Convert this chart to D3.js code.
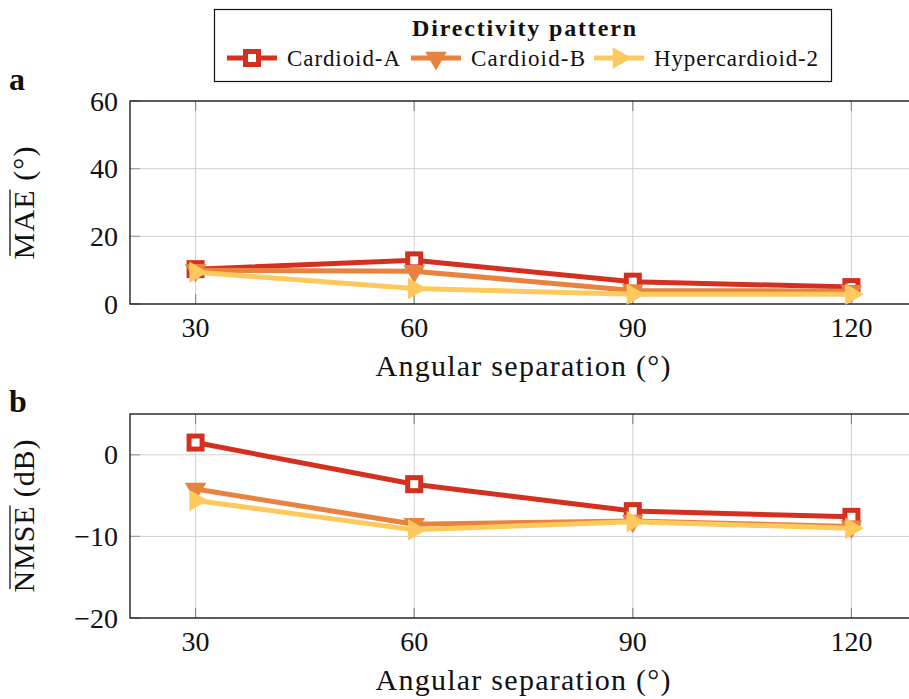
<!DOCTYPE html>
<html>
<head>
<meta charset="utf-8">
<script src="https://cdn.jsdelivr.net/npm/d3@7"></script>
<style>
  body { margin: 0; background: #fff; }
  svg text { font-family: "Liberation Serif", "DejaVu Serif", serif; fill: #111; }
</style>
</head>
<body>
<div id="chart"></div>
<script>
// data
const angles = [30, 60, 90, 120];
const seriesNames = ["Cardioid-A", "Cardioid-B", "Hypercardioid-2"];

const maeA = [10.3, 12.9, 6.6, 5.0];
const maeB = [10.0, 9.7, 4.0, 3.8];
const maeH = [9.4, 4.6, 2.9, 2.9];

const nmseA = [1.5, -3.6, -6.9, -7.6];
const nmseB = [-4.2, -8.5, -8.1, -8.8];
const nmseH = [-5.6, -9.2, -8.2, -9.0];

const maeTicks = [0, 20, 40, 60];
const nmseTicks = [-20, -10, 0];

const width = 909, height = 699;

const svg = d3.select("#chart")
    .append("svg")
    .attr("width", width)
    .attr("height", height);

const colorScale = d3.scaleOrdinal()
    .domain(seriesNames)
    .range(["#d5301f", "#e8823f", "#fec95c"]);

const markerType = {"Cardioid-A": "square", "Cardioid-B": "down", "Hypercardioid-2": "right"};

// x scale shared by both panels
const xScale = d3.scaleLinear()
    .domain([21, 129])
    .range([130, 917]);

function drawMarker(g, name, x, y) {
    const c = colorScale(name);
    const t = markerType[name];
    if (t === "square") {
        g.append("rect")
            .attr("x", x - 6.5).attr("y", y - 6.5)
            .attr("width", 13).attr("height", 13)
            .attr("fill", "#fff")
            .attr("stroke", c)
            .attr("stroke-width", 5);
    } else {
        g.append("path")
            .attr("d", d3.symbol(d3.symbolTriangle, 200)())
            .attr("transform", `translate(${x},${y}) rotate(${t === "down" ? 180 : 90})`)
            .attr("fill", c);
    }
}

function drawPanel(opts) {
    const yScale = d3.scaleLinear()
        .domain(opts.domain)
        .range([opts.bottom, opts.top]);

    const g = svg.append("g");

    // grid
    g.selectAll(".vgrid").data(angles).enter().append("line")
        .attr("x1", d => xScale(d)).attr("x2", d => xScale(d))
        .attr("y1", opts.top).attr("y2", opts.bottom)
        .attr("stroke", "#d0d0d0").attr("stroke-width", 1);
    g.selectAll(".hgrid").data(opts.ticks).enter().append("line")
        .attr("x1", xScale.range()[0]).attr("x2", xScale.range()[1])
        .attr("y1", d => yScale(d)).attr("y2", d => yScale(d))
        .attr("stroke", "#d0d0d0").attr("stroke-width", 1);

    // ticks (inside)
    g.selectAll(".xtb").data(angles).enter().append("line")
        .attr("x1", d => xScale(d)).attr("x2", d => xScale(d))
        .attr("y1", opts.bottom).attr("y2", opts.bottom - 10)
        .attr("stroke", "#8a8a8a").attr("stroke-width", 1.2);
    g.selectAll(".xtt").data(angles).enter().append("line")
        .attr("x1", d => xScale(d)).attr("x2", d => xScale(d))
        .attr("y1", opts.top).attr("y2", opts.top + 10)
        .attr("stroke", "#8a8a8a").attr("stroke-width", 1.2);
    g.selectAll(".ytl").data(opts.ticks).enter().append("line")
        .attr("x1", 130).attr("x2", 140)
        .attr("y1", d => yScale(d)).attr("y2", d => yScale(d))
        .attr("stroke", "#a0a0a0").attr("stroke-width", 1.2);

    // frame
    g.append("rect")
        .attr("x", 130).attr("y", opts.top)
        .attr("width", 917 - 130).attr("height", opts.bottom - opts.top)
        .attr("fill", "none").attr("stroke", "#111").attr("stroke-width", 1.3);

    // tick labels
    g.selectAll(".xl").data(angles).enter().append("text")
        .attr("x", d => xScale(d)).attr("y", opts.bottom + 33)
        .attr("text-anchor", "middle")
        .style("font-size", "28px")
        .text(d => d);
    g.selectAll(".yl").data(opts.ticks).enter().append("text")
        .attr("x", 118).attr("y", d => yScale(d) + 9.5)
        .attr("text-anchor", "end")
        .style("font-size", "28px")
        .text(d => d < 0 ? "\u2212" + Math.abs(d) : d);

    // series
    const line = d3.line().x((d, i) => xScale(angles[i])).y(d => yScale(d));
    opts.series.forEach(function(vals, k) {
        const name = seriesNames[k];
        g.append("path")
            .datum(vals)
            .attr("d", line)
            .attr("fill", "none")
            .attr("stroke", colorScale(name))
            .attr("stroke-width", 5)
            .attr("stroke-linejoin", "round");
        vals.forEach(function(v, i) {
            drawMarker(g, name, xScale(angles[i]), yScale(v));
        });
    });

    // x axis label
    g.append("text")
        .attr("x", 523).attr("y", opts.bottom + 72)
        .attr("text-anchor", "middle")
        .attr("textLength", 295)
        .style("font-size", "30px")
        .text("Angular separation  (\u00B0)");

    // y axis label with overline on the metric name
    const yl = g.append("g")
        .attr("transform", `translate(34,${opts.labelY}) rotate(-90)`);
    const yt = yl.append("text")
        .attr("x", 0).attr("y", 0)
        .attr("text-anchor", "middle")
        .attr("textLength", opts.labelLen)
        .style("font-size", "30px")
        .text(opts.label + " " + opts.unit);
    const node = yt.node();
    const total = node.getComputedTextLength();
    const sub = node.getSubStringLength(0, opts.label.length);
    yl.append("line")
        .attr("x1", -total / 2).attr("x2", -total / 2 + sub)
        .attr("y1", -24).attr("y2", -24)
        .attr("stroke", "#111").attr("stroke-width", 1.3);

    // panel tag
    svg.append("text")
        .attr("x", 9).attr("y", opts.tagY)
        .style("font-size", "32px")
        .style("font-weight", "bold")
        .text(opts.tag);
}

drawPanel({
    top: 101, bottom: 304, domain: [0, 60], ticks: maeTicks,
    series: [maeA, maeB, maeH],
    label: "MAE", unit: "(\u00B0)", labelY: 203, labelLen: 113,
    tag: "a", tagY: 90
});

drawPanel({
    top: 414, bottom: 618, domain: [-20, 5], ticks: nmseTicks,
    series: [nmseA, nmseB, nmseH],
    label: "NMSE", unit: "(dB)", labelY: 516, labelLen: 153,
    tag: "b", tagY: 412
});

// legend
const legend = svg.append("g");
legend.append("rect")
    .attr("x", 214.5).attr("y", 9.5)
    .attr("width", 617).attr("height", 72)
    .attr("fill", "#fff").attr("stroke", "#111").attr("stroke-width", 1.2);
legend.append("text")
    .attr("x", 524).attr("y", 36)
    .attr("text-anchor", "middle")
    .attr("textLength", 224)
    .style("font-size", "24px")
    .style("font-weight", "bold")
    .text("Directivity pattern");

const legendX = [227, 411, 594];
const legendTextLen = [113, 114, 164];
seriesNames.forEach(function(name, k) {
    const x0 = legendX[k];
    legend.append("line")
        .attr("x1", x0).attr("x2", x0 + 50)
        .attr("y1", 58).attr("y2", 58)
        .attr("stroke", colorScale(name)).attr("stroke-width", 5);
    drawMarker(legend, name, x0 + 25, 58);
    legend.append("text")
        .attr("x", x0 + 60).attr("y", 66)
        .attr("textLength", legendTextLen[k])
        .style("font-size", "23px")
        .text(name);
});
</script>
</body>
</html>
